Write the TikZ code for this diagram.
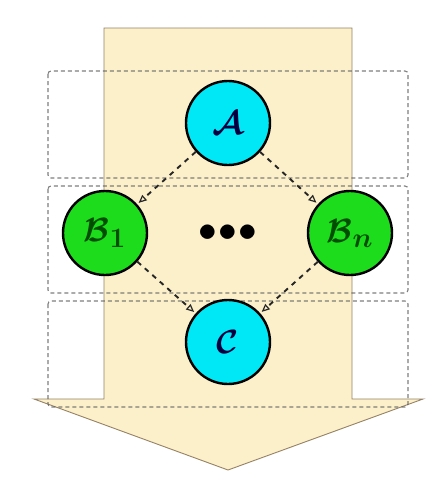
\documentclass[tikz,border=0pt]{standalone}
\usepackage{graphicx}
\usepackage{bm}
\usetikzlibrary{arrows.meta}
\definecolor{arrowfill}{RGB}{252,240,202}
\definecolor{arrowline}{RGB}{150,130,100}
\definecolor{cyanfill}{RGB}{0,232,245}
\definecolor{greenfill}{RGB}{28,220,28}
\definecolor{boxline}{RGB}{95,95,95}
\newcommand{\statelabel}[1]{\scalebox{1.35}{\Huge$\bm{#1}$}}
\begin{document}
\begin{tikzpicture}[x=1pt,y=-1pt,
  stagebox/.style={draw=boxline,dashed,dash pattern=on 4pt off 3pt,rounded corners=3pt,line width=1.1pt,opacity=0.8},
  state/.style={circle,draw=black,line width=2.4pt,minimum size=84pt,inner sep=0pt},
  flow/.style={dashed,dash pattern=on 5pt off 5pt,line width=1.9pt,draw=black!85,
    -{Triangle[open,length=8pt,width=7pt,line width=1.2pt]},shorten >=2pt}
]
\useasboundingbox[fill=white] (0,0) rectangle (438,491);
% big arrow
\draw[fill=arrowfill,draw=arrowline,line width=0.9pt,line join=miter]
  (104,28) -- (352,28) -- (352,399) -- (423,399) -- (228,470) -- (34,399) -- (104,399) -- cycle;
% stage boxes
\draw[stagebox] (48,71) rectangle (408,178);
\draw[stagebox] (48,186) rectangle (408,293);
\draw[stagebox] (48,301) rectangle (408,407);
% states
\node[state,fill=cyanfill,text=black!75!blue] (A) at (228,123) {\statelabel{\mathcal{A}}};
\node[state,fill=greenfill,text=black!70!green] (B1) at (105,233) {\statelabel{\mathcal{B}_1}};
\node[state,fill=greenfill,text=black!70!green] (Bn) at (350,233) {\statelabel{\mathcal{B}_n}};
\node[state,fill=cyanfill,text=black!75!blue] (C) at (228,342) {\statelabel{\mathcal{C}}};
\node[inner sep=0pt] (dots) at (228,233) {\scalebox{1.5}{\Huge$\bullet\mkern-3.5mu\bullet\mkern-3.5mu\bullet$}};
% transitions
\draw[flow] (A) -- (B1);
\draw[flow] (A) -- (Bn);
\draw[flow] (B1) -- (C);
\draw[flow] (Bn) -- (C);
\end{tikzpicture}
\end{document}
